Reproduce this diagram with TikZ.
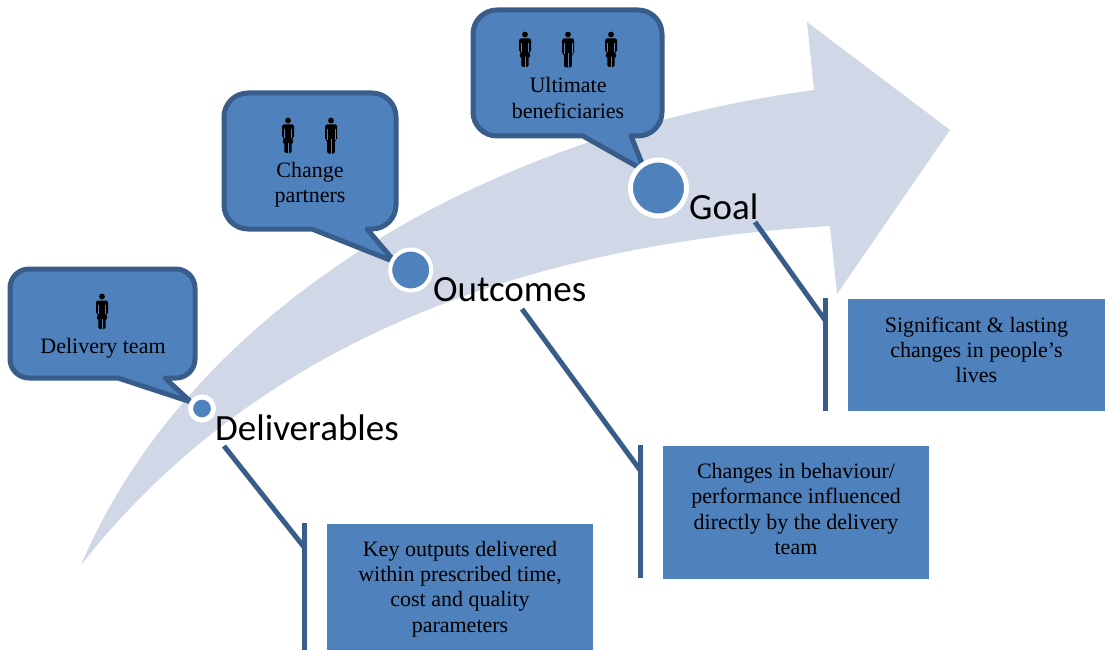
\documentclass[tikz,border=0pt]{standalone}
\usepackage{fontspec}
\setmainfont{Liberation Serif}
\newfontfamily\lab{Carlito}
\definecolor{fillb}{HTML}{4F81BD}
\definecolor{lineb}{HTML}{385D8A}
\definecolor{arrowc}{HTML}{D0D8E8}
\tikzset{x=1pt,y=-1pt,
 bubble/.style={fill=fillb,draw=lineb,line width=5pt,line join=round},
 dot/.style={circle,fill=fillb,draw=white,inner sep=0pt},
 lbl/.style={font=\lab\fontsize{37}{37}\selectfont,inner sep=0pt,text=black,anchor=base west},
 info/.style={fill=fillb,inner sep=0pt},
 btxt/.style={inner sep=0pt,align=center,font=\fontsize{22}{25.2}\selectfont,text=black},
 stem/.style={draw=lineb,line width=5pt},
 person/.pic={\fill[black] (0,-14.5) circle (2.9);
   \fill[black,rounded corners=1.5pt] (-6,3) -- (-6,-10.5) -- (6,-10.5) -- (6,3) -- (3.5,3) -- (6,7.5) -- (3.6,7.5) -- (3.6,18) -- (-3.6,18) -- (-3.6,7.5) -- (-6,7.5) -- (-3.5,3) -- cycle;
   \draw[fillb,line width=.5pt] (0,8) -- (0,18) (-3.6,-6) -- (-3.6,3) (3.6,-6) -- (3.6,3);},
 manp/.pic={\fill[black] (0,-14.5) circle (2.9);
   \fill[black,rounded corners=1.5pt] (-6,5) -- (-6,-10.5) -- (6,-10.5) -- (6,5) -- (3.8,5) -- (3.8,18.5) -- (-3.8,18.5) -- (-3.8,5) -- cycle;
   \draw[fillb,line width=.5pt] (0,4) -- (0,18.5) (-3.8,-6) -- (-3.8,5) (3.8,-6) -- (3.8,5);}
}
\begin{document}
\begin{tikzpicture}
\useasboundingbox (0,0) rectangle (1105,650);
% big arrow
\fill[arrowc] (81,565) .. controls (190,310) and (480,135) .. (814,90)
  -- (807,22) -- (950,130) -- (837,294) -- (830,226)
  .. controls (510,245) and (250,350) .. (81,565) -- cycle;
% stems
\coordinate (s1a) at (224,446); \coordinate (s1b) at (304,547);
\coordinate (s1c) at (304,523); \coordinate (s1d) at (304,650);
\draw[stem] (s1a) -- (s1b); \draw[stem] (s1c) -- (s1d);
\coordinate (s2a) at (522,309); \coordinate (s2b) at (640,470);
\coordinate (s2c) at (640,445); \coordinate (s2d) at (640,578);
\draw[stem] (s2a) -- (s2b); \draw[stem] (s2c) -- (s2d);
\coordinate (s3a) at (755,222); \coordinate (s3b) at (825,320);
\coordinate (s3c) at (825,298); \coordinate (s3d) at (825,411);
\draw[stem] (s3a) -- (s3b); \draw[stem] (s3c) -- (s3d);
% info boxes
\node[info,minimum width=266pt,minimum height=127pt] (b1) at (460,587.5) {};
\node[info,minimum width=266pt,minimum height=133pt] (b2) at (796,512) {};
\node[info,minimum width=257pt,minimum height=112pt] (b3) at (976.5,355) {};
\node[btxt] (b1t) at (460,589) {Key outputs delivered\\within prescribed time,\\cost and quality\\parameters};
\node[btxt] (b2t) at (796,509) {Changes in behaviour/\\performance influenced\\directly by the delivery\\team};
\node[btxt] (b3t) at (976.5,350) {Significant \& lasting\\changes in people’s\\lives};
% bubbles
\draw[bubble] (29,269) -- (176,269) arc[start angle=-90,end angle=0,radius=19] -- (195,359) arc[start angle=0,end angle=90,radius=19] -- (165,378) -- (191,402) -- (118,378) -- (29,378) arc[start angle=90,end angle=180,radius=19] -- (10,288) arc[start angle=180,end angle=270,radius=19] -- cycle;
\draw[bubble] (248,93) -- (372,93) arc[start angle=-90,end angle=0,radius=24] -- (396,205) arc[start angle=0,end angle=90,radius=24] -- (367,229) -- (395,262) -- (312,229) -- (248,229) arc[start angle=90,end angle=180,radius=24] -- (224,117) arc[start angle=180,end angle=270,radius=24] -- cycle;
\draw[bubble] (497,10) -- (638,10) arc[start angle=-90,end angle=0,radius=24] -- (662,112) arc[start angle=0,end angle=90,radius=24] -- (631,136) -- (645,171) -- (583,136) -- (497,136) arc[start angle=90,end angle=180,radius=24] -- (473,34) arc[start angle=180,end angle=270,radius=24] -- cycle;
% dots
\node[dot,line width=5pt,minimum size=23pt] (d1) at (202,408.5) {};
\node[dot,line width=4pt,minimum size=41pt] (d2) at (410.7,270) {};
\node[dot,line width=5pt,minimum size=56pt] (d3) at (658.5,188) {};
% labels
\node[lbl] (l1) at (215,440) {Deliverables};
\node[lbl] (l2) at (433,301) {Outcomes};
\node[lbl] (l3) at (689,219) {Goal};
% bubble text
\node[btxt] (t1) at (103,348) {Delivery team};
\node[btxt] (t2) at (310,185) {Change\\partners};
\node[btxt] (t3) at (568,98) {Ultimate\\beneficiaries};
% people
\pic at (102,311) {person};
\pic at (288,135) {person};
\pic at (331,135) {manp};
\pic at (525,49) {person};
\pic at (568,49) {manp};
\pic at (611,49) {person};
\end{tikzpicture}
\end{document}
